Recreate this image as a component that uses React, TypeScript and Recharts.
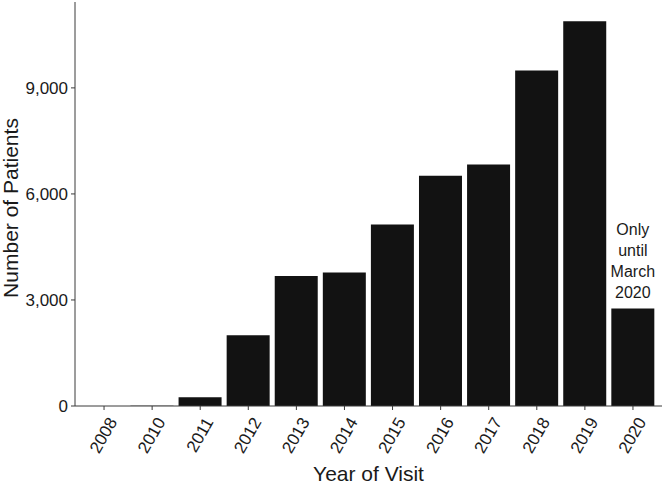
import { Bar, BarChart, Label, LabelList, XAxis, YAxis } from "recharts";

// Patient visits per year.
const years = ["2008", "2010", "2011", "2012", "2013", "2014", "2015", "2016", "2017", "2018", "2019", "2020"];
const patients = [3, 5, 246, 1999, 3676, 3780, 5138, 6512, 6834, 9492, 10886, 2762];
const yTicks = [0, 3000, 6000, 9000];
const noteLines = ["Only", "until", "March", "2020"];
const noteYear = "2020";

const data = years.map((year, i) => ({ year, patients: patients[i] }));

const FONT = '"Liberation Sans", Arial, sans-serif';
const INK = "#1a1a1a";
const AXIS = "#3a3a3a";
const BAR = "#121212";

function XTick({ x, y, payload }: any) {
  // Labels turned 60° and right-aligned on the tick, like ggplot's angle=60, hjust=1.
  return (
    <text
      transform={`translate(${x + 9},${y + 9}) rotate(-60)`}
      textAnchor="end"
      dominantBaseline="central"
      fontSize={17}
      fontFamily={FONT}
      fill={INK}
    >
      {payload.value}
    </text>
  );
}

function Note(props: any) {
  const { x, y, width, index } = props;
  if (data[index]?.year !== noteYear) return null;
  const cx = x + width / 2;
  const n = noteLines.length;
  return (
    <text textAnchor="middle" fontSize={16} fontFamily={FONT} fill={INK}>
      {noteLines.map((line, i) => (
        <tspan key={line} x={cx} y={y - 10 - (n - 1 - i) * 21}>
          {line}
        </tspan>
      ))}
    </text>
  );
}

export default function App() {
  return (
    <div style={{ position: "absolute", left: 0, top: 0, background: "#fff" }}>
      <BarChart
        width={664}
        height={484}
        data={data}
        margin={{ top: 2, right: 2, bottom: 0, left: 0 }}
        barCategoryGap="5%"
      >
        <XAxis
          dataKey="year"
          height={78}
          padding={{ left: 5, right: 5 }}
          tick={<XTick />}
          tickSize={4}
          tickMargin={0}
          axisLine={{ stroke: AXIS, strokeWidth: 1 }}
          tickLine={{ stroke: AXIS }}
          interval={0}
        >
          <Label
            content={() => (
              <text x={368.5} y={481} textAnchor="middle" fontSize={21} fontFamily={FONT} fill={INK}>
                Year of Visit
              </text>
            )}
          />
        </XAxis>
        <YAxis
          width={75}
          domain={[0, 11430]}
          ticks={yTicks}
          interval={0}
          allowDataOverflow
          tickFormatter={(v: number) => v.toLocaleString("en-US")}
          tick={{ fontSize: 17, fontFamily: FONT, fill: INK }}
          tickSize={4}
          tickMargin={3}
          axisLine={{ stroke: AXIS, strokeWidth: 1 }}
          tickLine={{ stroke: AXIS }}
        >
          <Label
            content={() => (
              <text
                transform="translate(18,208) rotate(-90)"
                textAnchor="middle"
                fontSize={21}
                fontFamily={FONT}
                fill={INK}
              >
                Number of Patients
              </text>
            )}
          />
        </YAxis>
        <Bar dataKey="patients" fill={BAR} isAnimationActive={false}>
          <LabelList dataKey="patients" content={<Note />} />
        </Bar>
      </BarChart>
    </div>
  );
}
